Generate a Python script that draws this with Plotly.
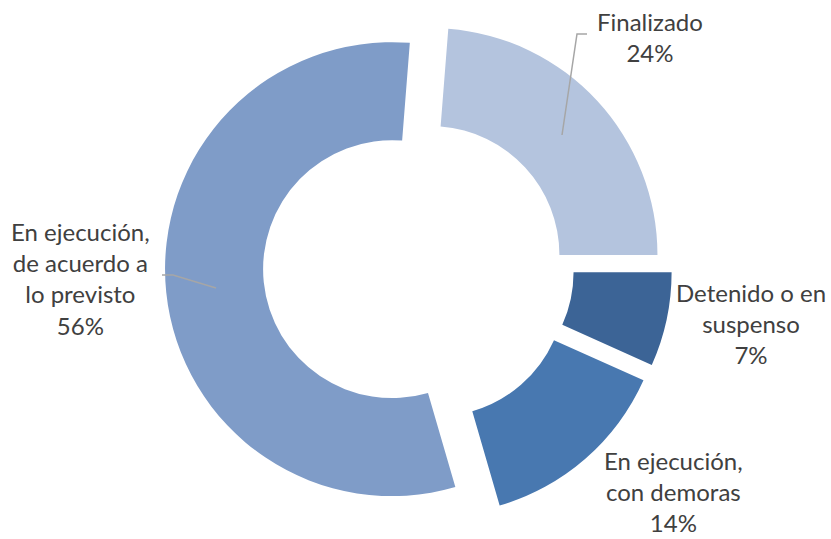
import plotly.graph_objects as go

# ---- data ----
labels = ["Finalizado", "Detenido o en suspenso",
          "En ejecución, con demoras", "En ejecución, de acuerdo a lo previsto"]
label_lines = ["Finalizado", "Detenido o en<br>suspenso",
               "En ejecución,<br>con demoras", "En ejecución,<br>de acuerdo a<br>lo previsto"]
values = [23.75, 6.7, 13.8, 55.75]
colors = ["#B4C4DE", "#3C6496", "#4878B0", "#7F9CC8"]
pulls = [0.075, 0.12, 0.123, 0.115]

W, H = 831, 539
total = sum(values)
pcts = [round(v / total * 100) for v in values]

fig = go.Figure(go.Pie(
    labels=labels, values=values, sort=False, direction="clockwise",
    rotation=4.5, hole=0.568, pull=pulls,
    marker=dict(colors=colors, line=dict(width=0)),
    textinfo="none", hoverinfo="label+percent",
    domain=dict(x=[0.15, 0.856], y=[0.0327, 0.9785]),
))

def px(x, y):
    return x / W, 1 - y / H

label_pos = [(650, 36.5), (751, 323), (673, 491), (80, 278)]
annotations = []
for lab, p, (x, y) in zip(label_lines, pcts, label_pos):
    ax, ay = px(x, y)
    annotations.append(dict(
        x=ax, y=ay, xref="paper", yref="paper", xanchor="center", yanchor="middle",
        text=f"{lab}<br>{p}%", showarrow=False, align="center", borderpad=0,
        font=dict(family="Lato", size=24, color="#404040")))

leaders = [[(587, 34), (577, 34), (562, 135)],
           [(162, 275), (173, 275), (216, 288)]]
shapes = []
for pts in leaders:
    path = "M " + " L ".join(f"{px(a, b)[0]},{px(a, b)[1]}" for a, b in pts)
    shapes.append(dict(type="path", path=path, xref="paper", yref="paper",
                       line=dict(color="#A6A6A6", width=1.5)))

fig.update_layout(
    width=W, height=H, margin=dict(l=0, r=0, t=0, b=0),
    paper_bgcolor="white", plot_bgcolor="white", showlegend=False,
    annotations=annotations, shapes=shapes,
)
fig.write_html("out.html")
